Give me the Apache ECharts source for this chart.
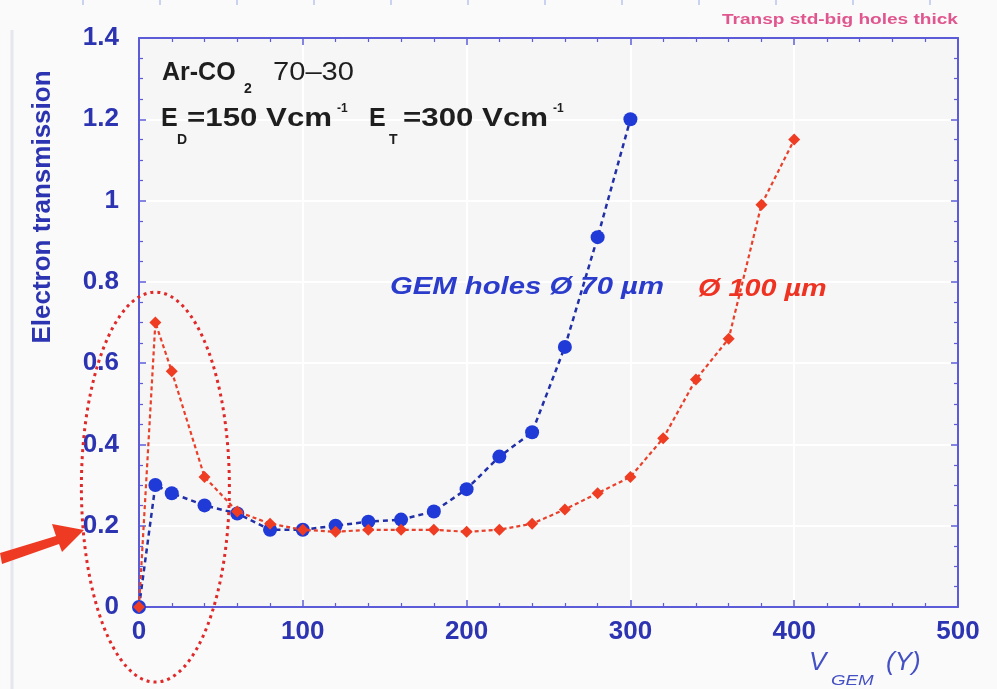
<!DOCTYPE html>
<html>
<head>
<meta charset="utf-8">
<script src="https://cdn.jsdelivr.net/npm/echarts@6/dist/echarts.min.js"></script>
<style>
  html, body { margin: 0; padding: 0; background: #fafafa; }
  #chart { width: 997px; height: 689px; }
</style>
</head>
<body>
<div id="chart"></div>
<script>
// GEM voltage (V) for the 70 µm hole foil and its electron transmission
const vgem70 = [0, 10, 20, 40, 60, 80, 100, 120, 140, 160, 180, 200, 220, 240, 260, 280, 300];
const trans70 = [0, 0.30, 0.28, 0.25, 0.23, 0.19, 0.19, 0.20, 0.21, 0.215, 0.235, 0.29, 0.37, 0.43, 0.64, 0.91, 1.20];

// GEM voltage (V) for the 100 µm hole foil and its electron transmission
const vgem100 = [0, 10, 20, 40, 60, 80, 100, 120, 140, 160, 180, 200, 220, 240, 260, 280, 300, 320, 340, 360, 380, 400];
const trans100 = [0, 0.70, 0.58, 0.32, 0.235, 0.205, 0.19, 0.185, 0.19, 0.19, 0.19, 0.185, 0.19, 0.205, 0.24, 0.28, 0.32, 0.415, 0.56, 0.66, 0.99, 1.15];

// Axis ranges
const xRange = [0, 500];
const yRange = [0, 1.4];

const AXIS_BLUE = '#5c5cd8';
const LABEL_BLUE = '#2c34b2';
const FONT = '"Liberation Sans", Arial, sans-serif';

function pairs(xs, ys) { return xs.map((x, i) => [x, ys[i]]); }

const chart = echarts.init(document.getElementById('chart'), null, { renderer: 'canvas' });

const lineStyleAxis = { color: AXIS_BLUE, width: 2 };
const tickStyle = { color: AXIS_BLUE, width: 1.5 };
const minorStyle = { color: AXIS_BLUE, width: 1.2 };
const gridLine = { show: true, lineStyle: { color: '#ffffff', width: 2 } };

const option = {
  backgroundColor: '#fafafa',
  animation: false,
  grid: { left: 139, right: 39, top: 38, bottom: 82, show: true, backgroundColor: '#f6f6f6', borderWidth: 0 },
  xAxis: [
    {
      type: 'value', min: xRange[0], max: xRange[1], interval: 100,
      axisLine: { show: true, onZero: false, lineStyle: lineStyleAxis },
      axisTick: { show: true, inside: true, length: 7, lineStyle: tickStyle },
      minorTick: { show: true, splitNumber: 5, length: 4, lineStyle: minorStyle },
      axisLabel: { color: LABEL_BLUE, fontFamily: FONT, fontWeight: 'bold', fontSize: 26, margin: 12 },
      splitLine: gridLine
    },
    {
      type: 'value', position: 'top', min: xRange[0], max: xRange[1], interval: 100,
      axisLine: { show: true, onZero: false, lineStyle: lineStyleAxis },
      axisTick: { show: true, inside: true, length: 7, lineStyle: tickStyle },
      minorTick: { show: true, splitNumber: 5, length: 4, lineStyle: minorStyle },
      axisLabel: { show: false },
      splitLine: { show: false }
    }
  ],
  yAxis: [
    {
      type: 'value', min: yRange[0], max: yRange[1], interval: 0.2,
      axisLine: { show: true, onZero: false, lineStyle: lineStyleAxis },
      axisTick: { show: true, inside: true, length: 7, lineStyle: tickStyle },
      minorTick: { show: true, splitNumber: 4, length: 4, lineStyle: minorStyle },
      axisLabel: { color: LABEL_BLUE, fontFamily: FONT, fontWeight: 'bold', fontSize: 26, margin: 20 },
      splitLine: gridLine
    },
    {
      type: 'value', position: 'right', min: yRange[0], max: yRange[1], interval: 0.2,
      axisLine: { show: true, onZero: false, lineStyle: lineStyleAxis },
      axisTick: { show: true, inside: true, length: 7, lineStyle: tickStyle },
      minorTick: { show: true, splitNumber: 4, length: 4, lineStyle: minorStyle },
      axisLabel: { show: false },
      splitLine: { show: false }
    }
  ],
  series: [
    {
      name: 'GEM holes Ø 70 µm',
      type: 'line',
      data: pairs(vgem70, trans70),
      symbol: 'circle',
      symbolSize: 14,
      itemStyle: { color: '#1f3ad6' },
      lineStyle: { color: '#2230a8', width: 2.5, type: [5, 4] },
      z: 3
    },
    {
      name: 'Ø 100 µm',
      type: 'line',
      data: pairs(vgem100, trans100),
      symbol: 'diamond',
      symbolSize: 12,
      itemStyle: { color: '#ee3d22' },
      lineStyle: { color: '#e8402a', width: 2.2, type: [4, 3] },
      z: 4
    }
  ]
};

chart.setOption(option);

// Text helper: left-aligned, vertically centred, optionally stretched
function txt(x, y, text, font, fill, sx) {
  return {
    type: 'text', x: x, y: y, scaleX: sx || 1,
    style: { text: text, font: font, fill: fill, align: 'left', verticalAlign: 'middle' },
    z: 20
  };
}

const INK = '#1e1e1e';
const BIG = 'bold 25px ' + FONT;
const SUB = 'bold 14px ' + FONT;
const SUP = 'bold 12px ' + FONT;

// Annotations placed relative to the data coordinates
const ellC = chart.convertToPixel({ xAxisIndex: 0, yAxisIndex: 0 }, [10, 0.295]);

const graphics = [
  // top-right caption
  txt(722, 20, 'Transp std-big holes thick', 'bold 14px ' + FONT, '#e0568e', 1.36),

  // gas mixture: Ar-CO2 70-30
  txt(162, 73, 'Ar-CO', BIG, INK, 1.0),
  txt(244, 89, '2', SUB, INK, 1.0),
  txt(273, 73, '70–30', '26px ' + FONT, INK, 1.12),

  // drift and transfer fields
  txt(161, 119, 'E', BIG, INK, 1.0),
  txt(177, 140, 'D', SUB, INK, 1.0),
  txt(187, 119, '=150 Vcm', BIG, INK, 1.25),
  txt(337, 109, '-1', SUP, INK, 1.0),
  txt(369, 119, 'E', BIG, INK, 1.0),
  txt(389, 140, 'T', SUB, INK, 1.0),
  txt(403, 119, '=300 Vcm', BIG, INK, 1.25),
  txt(553, 109, '-1', SUP, INK, 1.0),

  // series captions
  txt(390, 287, 'GEM holes Ø 70 µm', 'italic bold 24px ' + FONT, '#2b3ccc', 1.22),
  txt(698, 289, 'Ø 100 µm', 'italic bold 24px ' + FONT, '#ee3322', 1.2),

  // y axis title
  {
    type: 'text', x: 43, y: 207, rotation: Math.PI / 2,
    style: { text: 'Electron transmission', fill: LABEL_BLUE, font: 'bold 26px ' + FONT, align: 'center', verticalAlign: 'middle' },
    z: 20
  },

  // x axis title: V_GEM (Y)
  txt(809, 663, 'V', 'italic 26px ' + FONT, '#4450c4', 1.0),
  txt(831, 681, 'GEM', 'italic 15px ' + FONT, '#4450c4', 1.25),
  txt(886, 663, '(Y)', 'italic 26px ' + FONT, '#4450c4', 1.0),

  // dotted ellipse around the low-voltage peak
  {
    type: 'ellipse',
    shape: { cx: ellC[0], cy: ellC[1], rx: 74, ry: 195 },
    style: { fill: null, stroke: '#e02a2a', lineWidth: 3, lineDash: [3, 4] },
    z: 10
  },
  // arrow pointing at 0.2
  {
    type: 'polygon',
    shape: { points: [[0, 553], [56, 536], [52, 524], [84, 530], [62, 552], [59, 544], [2, 564]] },
    style: { fill: '#ee3a22' },
    z: 10
  },
  // faint frame line on the left edge
  {
    type: 'line',
    shape: { x1: 12, y1: 30, x2: 12, y2: 689 },
    style: { stroke: '#e6e6ee', lineWidth: 3 }
  }
];

// small ruler marks along the top edge
for (let x = 83; x < 997; x += 77) {
  graphics.push({
    type: 'line',
    shape: { x1: x, y1: 0, x2: x, y2: 5 },
    style: { stroke: '#b8c4ee', lineWidth: 1.5 }
  });
}

chart.setOption({ graphic: graphics });
</script>
</body>
</html>
